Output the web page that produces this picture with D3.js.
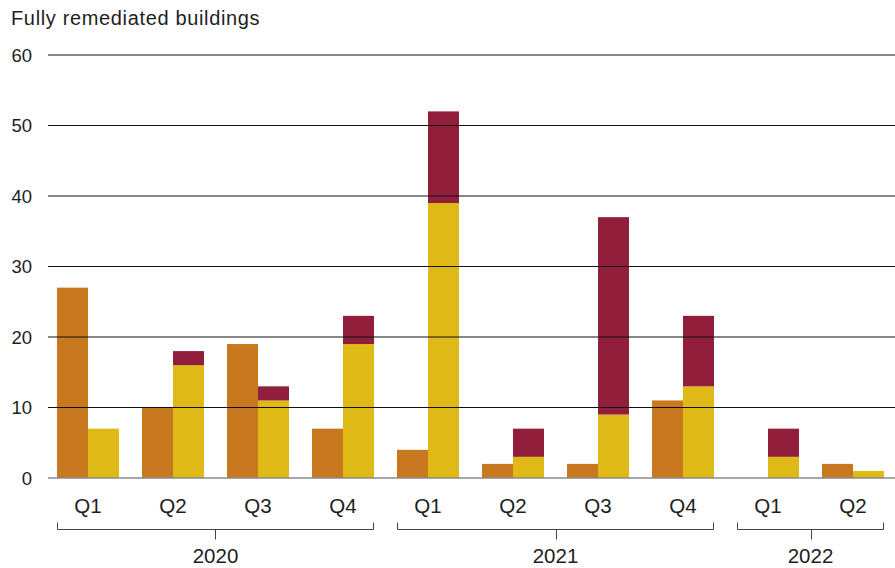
<!DOCTYPE html>
<html><head><meta charset="utf-8">
<script src="https://cdn.jsdelivr.net/npm/d3@7"></script>
<style>
html,body{margin:0;padding:0;background:#fff;}
svg text{font-family:"Liberation Sans",Arial,sans-serif;fill:#1e1e1e;}
</style></head>
<body><svg id="c" width="895" height="568"></svg>
<script>
const quarters = ["Q1","Q2","Q3","Q4","Q1","Q2","Q3","Q4","Q1","Q2"];
const years = ["2020","2020","2020","2020","2021","2021","2021","2021","2022","2022"];
const yearLabels = ["2020","2021","2022"];
const seriesOrange = [27,10,19,7,4,2,2,11,0,2];
const seriesYellow = [7,16,11,19,39,3,9,13,3,1];
const seriesMaroon = [0,2,2,4,13,4,28,10,4,0];
const yTicks = [0,10,20,30,40,50,60];
const title = "Fully remediated buildings";

const colors = {orange:"#C8781F", yellow:"#DFB915", maroon:"#911F3C"};
const svg = d3.select("#c");
const idx = d3.range(quarters.length);

const y = d3.scaleLinear().domain([0,60]).range([478,55]);
const x = d3.scaleBand().domain(idx).range([57,884]).paddingInner(23/85).paddingOuter(0);
const bw = x.bandwidth()/2;

svg.append("text").attr("x",11).attr("y",24.5).style("font-size","20px")
  .style("letter-spacing","0.65px").text(title);

// y tick labels
svg.append("g").selectAll("text").data(yTicks).join("text")
  .attr("x",32).attr("y",d=>y(d)).attr("dy","0.36em").attr("text-anchor","end")
  .style("font-size","18.5px").text(d=>d);

// bars
const g = svg.append("g");
g.selectAll("rect.o").data(idx).join("rect").attr("class","o")
  .attr("x",i=>x(i)).attr("width",bw)
  .attr("y",i=>y(seriesOrange[i])).attr("height",i=>y(0)-y(seriesOrange[i]))
  .attr("fill",colors.orange);
g.selectAll("rect.yl").data(idx).join("rect").attr("class","yl")
  .attr("x",i=>x(i)+bw).attr("width",bw)
  .attr("y",i=>y(seriesYellow[i])).attr("height",i=>y(0)-y(seriesYellow[i]))
  .attr("fill",colors.yellow);
g.selectAll("rect.m").data(idx).join("rect").attr("class","m")
  .attr("x",i=>x(i)+bw).attr("width",bw)
  .attr("y",i=>y(seriesYellow[i]+seriesMaroon[i])).attr("height",i=>y(seriesYellow[i])-y(seriesYellow[i]+seriesMaroon[i]))
  .attr("fill",colors.maroon);

// gridlines on top
svg.append("g").selectAll("line").data(yTicks.filter(d=>d>0)).join("line")
  .attr("x1",48).attr("x2",895).attr("y1",d=>y(d)).attr("y2",d=>y(d))
  .attr("stroke","#111").attr("stroke-width",1.2);
svg.append("line").attr("x1",48).attr("x2",895).attr("y1",y(0)).attr("y2",y(0))
  .attr("stroke","#8a8a8a").attr("stroke-width",1.6);

// quarter labels
svg.append("g").selectAll("text").data(idx).join("text")
  .attr("x",i=>x(i)+x.bandwidth()/2).attr("y",513).attr("text-anchor","middle")
  .style("font-size","20.5px").text(i=>quarters[i]);

// year brackets
const bg = svg.append("g").attr("stroke","#444").attr("stroke-width",1).attr("fill","none");
yearLabels.forEach(yr=>{
  const members = idx.filter(i=>years[i]===yr);
  const x0 = x(members[0])+0.5, x1 = x(members[members.length-1])+x.bandwidth()-0.5;
  const by = 529.5;
  bg.append("path").attr("d",`M${x0},${by-7}V${by}H${x1}V${by-7}`);
  const cx = Math.round((x0+x1)/2)+0.5;
  bg.append("path").attr("d",`M${cx},${by}V${by+10}`);
  svg.append("text").attr("x",(x0+x1)/2).attr("y",563).attr("text-anchor","middle")
    .style("font-size","20.5px").text(yr);
});
</script></body></html>
